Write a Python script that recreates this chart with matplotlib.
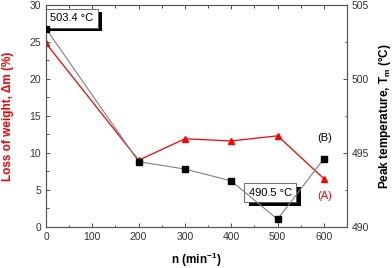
import matplotlib
matplotlib.use("Agg")
import matplotlib.pyplot as plt
import matplotlib.patheffects as pe
from matplotlib.ticker import MultipleLocator

plt.rcParams['font.family'] = ['Liberation Sans', 'DejaVu Sans']
plt.rcParams['mathtext.fontset'] = 'custom'
plt.rcParams['mathtext.rm'] = 'Liberation Sans'
plt.rcParams['mathtext.bf'] = 'Liberation Sans:bold'

n = [0, 200, 300, 400, 500, 600]
loss = [24.8, 9.0, 11.9, 11.6, 12.3, 6.5]
peak_t = [503.4, 494.4, 493.9, 493.1, 490.5, 494.6]

fig = plt.figure(figsize=(3.92, 2.68), dpi=100)
ax = fig.add_axes([46/392, 1-226.7/268, 301/392, 221.7/268])
ax2 = ax.twinx()

ax.plot(n, loss, color='red', lw=0.9, marker='^', ms=4, mfc='red', mec='red', zorder=3)
ax2.plot(n, peak_t, color='#808080', lw=0.8, marker='s', ms=4, mfc='black', mec='black', zorder=3)

ax.set_xlim(0, 650)
ax.set_ylim(0, 30)
ax2.set_ylim(490, 505)
ax.set_xticks([0, 100, 200, 300, 400, 500, 600])
ax.xaxis.set_minor_locator(MultipleLocator(50))
ax.yaxis.set_major_locator(MultipleLocator(5))
ax.yaxis.set_minor_locator(MultipleLocator(2.5))
ax2.yaxis.set_major_locator(MultipleLocator(5))
ax2.yaxis.set_minor_locator(MultipleLocator(2.5))

for a in (ax, ax2):
    a.tick_params(which='both', direction='in', labelsize=7.5, colors='#333333', width=0.6)
    a.tick_params(which='major', length=3)
    a.tick_params(which='minor', length=1.8)
    for s in a.spines.values():
        s.set_color('#555555')
        s.set_linewidth(0.8)
ax.tick_params(which='both', top=True)
ax.tick_params(axis='y', which='both', right=False)

ax.set_xlabel('n (min$^{\\mathbf{-1}}$)', fontsize=8.5, fontweight='bold', labelpad=7)
ax.set_ylabel('Loss of weight, \u0394m (%)', fontsize=8.5, fontweight='bold', color='red', labelpad=11)
ax2.set_ylabel('Peak temperature, T$_{\\mathbf{m}}$ (\u00b0C)', fontsize=8.5, fontweight='bold', color='black', labelpad=5)

def shadow_box(axis, x, y, txt):
    t = axis.text(x, y, txt, fontsize=8, color='black', ha='left', va='center',
                  bbox=dict(boxstyle='square,pad=0.4', fc='white', ec='#555555', lw=0.6), zorder=6)
    t.get_bbox_patch().set_path_effects([
        pe.SimplePatchShadow(offset=(3, -2.5), shadow_rgbFace='black', alpha=1.0),
        pe.Normal()])

shadow_box(ax, 9, 28.2, '503.4 \u00b0C')
shadow_box(ax, 438, 4.6, '490.5 \u00b0C')

ax.text(602, 12.0, '(B)', fontsize=8, color='black', ha='center', va='center')
ax.text(602, 4.2, '(A)', fontsize=8, color='red', ha='center', va='center')

fig.savefig('out.png', dpi=100)
